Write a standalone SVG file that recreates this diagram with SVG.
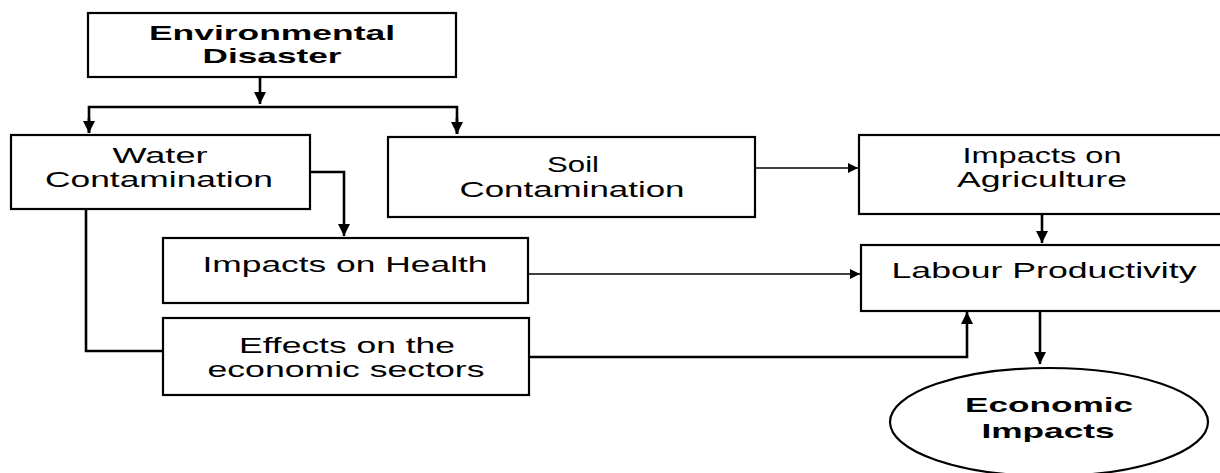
<svg xmlns="http://www.w3.org/2000/svg" width="1220" height="473" viewBox="0 0 1220 473">
<defs>
<style>
.box{fill:#fff;stroke:#000;stroke-width:2.2}
.t{font-family:"Liberation Sans",Arial,sans-serif;font-size:22px;fill:#000;text-anchor:middle}
.b{font-weight:bold;font-size:21px}
.c{fill:none;stroke:#000;stroke-width:2.6}
.thin{stroke-width:1.6}
</style>
<marker id="ah" viewBox="0 0 10 10" refX="10" refY="5" markerWidth="12" markerHeight="12" markerUnits="userSpaceOnUse" orient="auto">
<path d="M0,0 L10,5 L0,10 z" fill="#000"/>
</marker>
<marker id="ahs" viewBox="0 0 10 10" refX="10" refY="5" markerWidth="10" markerHeight="10" markerUnits="userSpaceOnUse" orient="auto">
<path d="M0,0 L10,5 L0,10 z" fill="#000"/>
</marker>
</defs>
<rect width="1220" height="473" fill="#fff"/>
<g id="connectors">
<path class="c" d="M260,77 V104" marker-end="url(#ah)"/>
<path class="c" d="M89,133 V107 H457 V134" />
<path class="c" d="M89,118 V133" marker-end="url(#ah)"/>
<path class="c" d="M457,118 V134" marker-end="url(#ah)"/>
<path class="c" d="M310,172 H344 V236" marker-end="url(#ah)"/>
<path class="c" d="M86,209 V351 H163"/>
<path class="c thin" d="M755,168 H858" marker-end="url(#ahs)"/>
<path class="c" d="M1042,214 V243" marker-end="url(#ah)"/>
<path class="c thin" d="M528,274 H860" marker-end="url(#ahs)"/>
<path class="c" d="M529,357 H967 V312" marker-end="url(#ah)"/>
<path class="c" d="M1040,311 V364" marker-end="url(#ah)"/>
</g>
<g id="environmental-disaster">
<rect class="box" x="88" y="13" width="368" height="64"/>
<text class="t b" x="272" y="40" textLength="246" lengthAdjust="spacingAndGlyphs">Environmental</text>
<text class="t b" x="272" y="63" textLength="139" lengthAdjust="spacingAndGlyphs">Disaster</text>
</g>
<g id="water-contamination">
<rect class="box" x="11" y="135" width="299" height="74"/>
<text class="t" x="160" y="163" textLength="95" lengthAdjust="spacingAndGlyphs">Water</text>
<text class="t" x="159" y="187" textLength="228" lengthAdjust="spacingAndGlyphs">Contamination</text>
</g>
<g id="soil-contamination">
<rect class="box" x="388" y="137" width="367" height="80"/>
<text class="t" x="573" y="172" textLength="52" lengthAdjust="spacingAndGlyphs">Soil</text>
<text class="t" x="572" y="197" textLength="225" lengthAdjust="spacingAndGlyphs">Contamination</text>
</g>
<g id="impacts-agriculture">
<rect class="box" x="859" y="135" width="372" height="79"/>
<text class="t" x="1042" y="163" textLength="159" lengthAdjust="spacingAndGlyphs">Impacts on</text>
<text class="t" x="1042" y="187" textLength="170" lengthAdjust="spacingAndGlyphs">Agriculture</text>
</g>
<g id="labour-productivity">
<rect class="box" x="861" y="245" width="370" height="66"/>
<text class="t" x="1044" y="278" textLength="305" lengthAdjust="spacingAndGlyphs">Labour Productivity</text>
</g>
<g id="impacts-health">
<rect class="box" x="163" y="238" width="365" height="65"/>
<text class="t" x="345" y="272" textLength="285" lengthAdjust="spacingAndGlyphs">Impacts on Health</text>
</g>
<g id="effects-economic-sectors">
<rect class="box" x="163" y="318" width="366" height="77"/>
<text class="t" x="347" y="353" textLength="216" lengthAdjust="spacingAndGlyphs">Effects on the</text>
<text class="t" x="346" y="377" textLength="277" lengthAdjust="spacingAndGlyphs">economic sectors</text>
</g>
<g id="economic-impacts">
<ellipse class="box" cx="1049" cy="422" rx="159" ry="54"/>
<text class="t b" x="1049" y="412" textLength="168" lengthAdjust="spacingAndGlyphs">Economic</text>
<text class="t b" x="1048" y="438" textLength="133" lengthAdjust="spacingAndGlyphs">Impacts</text>
</g>
</svg>
